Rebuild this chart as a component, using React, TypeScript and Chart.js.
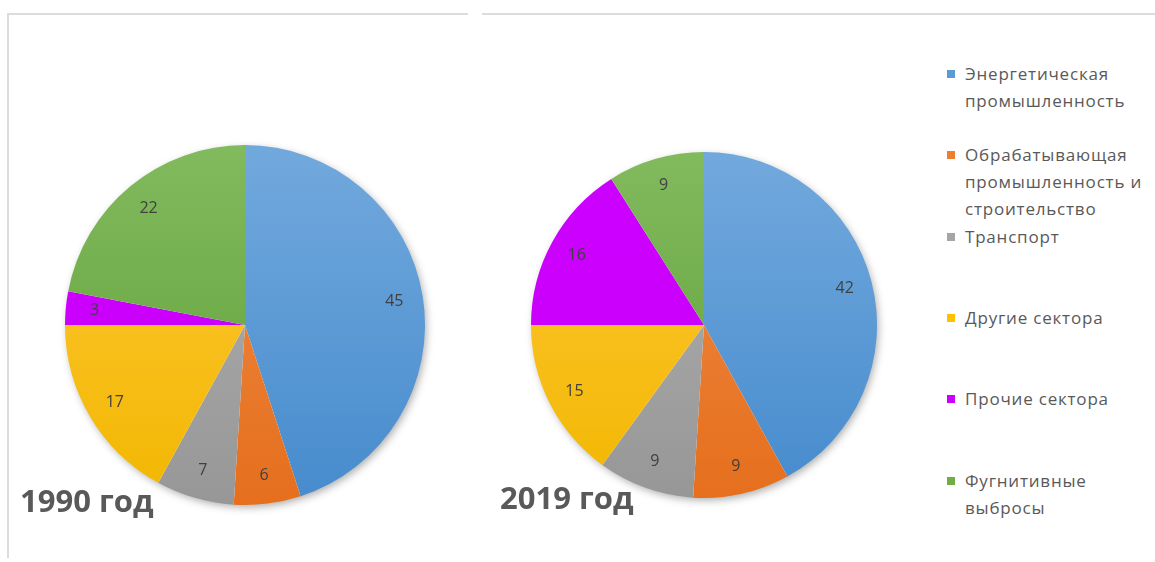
import React, { useEffect, useRef } from "react";
import { Chart, registerables } from "chart.js";

Chart.register(...registerables);

const categories = [
  "Энергетическая промышленность",
  "Обрабатывающая промышленность и строительство",
  "Транспорт",
  "Другие сектора",
  "Прочие сектора",
  "Фугнитивные выбросы",
];
const values1990 = [45, 6, 7, 17, 3, 22];
const values2019 = [42, 9, 9, 15, 16, 9];
const title1990 = "1990 год";
const title2019 = "2019 год";

const baseColors = ["#5b9bd5", "#ed7d31", "#a5a5a5", "#ffc000", "#cc00ff", "#70ad47"];
const topColors = ["#72a9dd", "#f08b47", "#b1b1b1", "#ffc83c", "#cc00ff", "#82ba5e"];
const bottomColors = ["#468bcd", "#e56f1d", "#979797", "#f2b700", "#c800f8", "#5e9f36"];

const shadowPlugin = {
  id: "pieShadow",
  beforeDatasetsDraw(chart: any) {
    const meta = chart.getDatasetMeta(0);
    const arc = meta.data[0];
    if (!arc) return;
    const { x, y, outerRadius } = arc;
    const ctx = chart.ctx;
    ctx.save();
    ctx.shadowColor = "rgba(0,0,0,0.35)";
    ctx.shadowBlur = 8;
    ctx.shadowOffsetX = 2;
    ctx.shadowOffsetY = 3;
    ctx.beginPath();
    ctx.arc(x, y, outerRadius - 1, 0, Math.PI * 2);
    ctx.fillStyle = "#ffffff";
    ctx.fill();
    ctx.restore();
  },
};

const labelPlugin = {
  id: "sliceLabels",
  afterDatasetsDraw(chart: any) {
    const meta = chart.getDatasetMeta(0);
    const data = chart.data.datasets[0].data;
    const ctx = chart.ctx;
    ctx.save();
    ctx.font = "16px 'Open Sans'";
    ctx.fillStyle = "#404040";
    ctx.textAlign = "center";
    ctx.textBaseline = "middle";
    meta.data.forEach((arc: any, i: number) => {
      const mid = (arc.startAngle + arc.endAngle) / 2;
      const d = arc.outerRadius * 0.84;
      const px = arc.x + Math.cos(mid) * d;
      const py = arc.y + Math.sin(mid) * d;
      ctx.fillText(String(data[i]), px, py);
    });
    ctx.restore();
  },
};

function PieChart({ values, size, pad }: { values: number[]; size: number; pad: number }) {
  const ref = useRef<HTMLCanvasElement>(null);
  useEffect(() => {
    if (!ref.current) return;
    const chart = new Chart(ref.current, {
      type: "pie",
      data: {
        labels: categories,
        datasets: [
          {
            data: values,
            borderWidth: 0,
            backgroundColor: (c: any) => {
              const i = c.dataIndex;
              const area = c.chart.chartArea;
              if (!area) return baseColors[i];
              const g = c.chart.ctx.createLinearGradient(0, area.top, 0, area.bottom);
              g.addColorStop(0, topColors[i]);
              g.addColorStop(1, bottomColors[i]);
              return g;
            },
          },
        ],
      },
      options: {
        responsive: false,
        maintainAspectRatio: false,
        animation: false,
        layout: { padding: pad },
        plugins: {
          legend: { display: false },
          tooltip: { enabled: false },
          title: { display: false },
        },
      },
      plugins: [shadowPlugin, labelPlugin],
    });
    return () => chart.destroy();
  }, [values, size, pad]);
  return <canvas ref={ref} width={size} height={size} style={{ width: size, height: size, display: "block" }} />;
}

export default function App() {
  const legendTop = 60;
  const itemStep = 81.3;
  return (
    <div
      style={{
        position: "absolute",
        left: 0,
        top: 0,
        width: 1155,
        height: 562,
        background: "#ffffff",
        overflow: "hidden",
        fontFamily: "'Open Sans', sans-serif",
      }}
    >
      {/* frame lines */}
      <div style={{ position: "absolute", left: 7, top: 13, width: 461, height: 2, background: "#dcdcdc" }} />
      <div style={{ position: "absolute", left: 482, top: 13, width: 673, height: 2, background: "#dcdcdc" }} />
      <div style={{ position: "absolute", left: 7, top: 13, width: 2, height: 545, background: "#dcdcdc" }} />

      <div style={{ position: "absolute", left: 245 - 200, top: 325 - 200 }}>
        <PieChart values={values1990} size={400} pad={20} />
      </div>
      <div style={{ position: "absolute", left: 704 - 193, top: 325 - 193 }}>
        <PieChart values={values2019} size={386} pad={20} />
      </div>

      <div
        style={{
          position: "absolute",
          left: 20,
          top: 480,
          fontSize: 31,
          fontWeight: 700,
          color: "#595959",
          whiteSpace: "nowrap",
          lineHeight: "40px",
        }}
      >
        {title1990}
      </div>
      <div
        style={{
          position: "absolute",
          left: 500,
          top: 477,
          fontSize: 31,
          fontWeight: 700,
          color: "#595959",
          whiteSpace: "nowrap",
          lineHeight: "40px",
        }}
      >
        {title2019}
      </div>

      {categories.map((cat, i) => (
        <div
          key={cat}
          style={{
            position: "absolute",
            left: 947,
            top: legendTop + i * itemStep,
            width: 205,
            display: "flex",
            alignItems: "flex-start",
          }}
        >
          <div
            style={{
              width: 8,
              height: 8,
              marginTop: 10,
              marginRight: 10,
              background: baseColors[i],
              flexShrink: 0,
            }}
          />
          <div
            style={{
              fontSize: 17,
              letterSpacing: 0.8,
              lineHeight: "27px",
              color: "#595959",
              width: 188,
            }}
          >
            {cat}
          </div>
        </div>
      ))}
    </div>
  );
}
